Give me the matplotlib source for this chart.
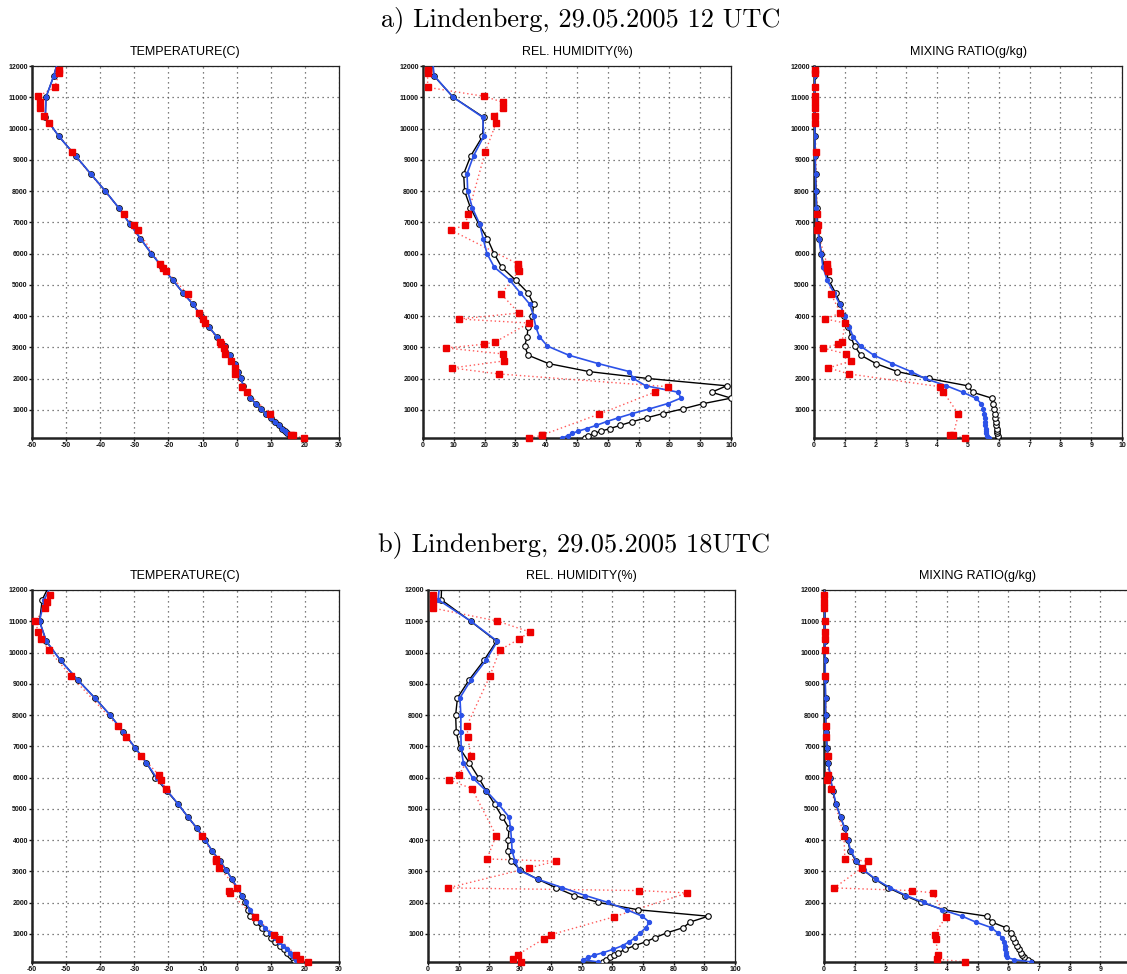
import matplotlib
matplotlib.use("Agg")
import matplotlib.pyplot as plt

plt.rcParams['axes.unicode_minus'] = False

# ---------------- data ----------------
# model levels (m)
levels = [100, 175, 250, 320, 400, 505, 625, 745, 880, 1030, 1200, 1375, 1565, 1770,
          2005, 2225, 2480, 2750, 3040, 3340, 3660, 3995, 4375, 4740, 5145, 5570, 5995,
          6480, 6945, 7465, 8000, 8550, 9125, 9745, 10360, 11000, 11690, 12400]

# ---- a) 12 UTC ----
t_a_blue = [16.3, 15.6, 14.8, 14.2, 13.3, 12.3, 11.1, 10.0, 8.6, 7.1, 5.6, 4.0, 3.0, 2.0,
            1.2, 0.5, -0.5, -2.0, -3.3, -5.8, -8.2, -10.4, -12.8, -15.7, -18.7, -21.8, -25.0,
            -28.2, -31.3, -34.6, -38.5, -42.8, -47.2, -52.1, -56.1, -55.9, -53.6, -51.8]
t_a_black = [16.3, 15.6, 14.8, 14.2, 13.3, 12.3, 11.1, 10.0, 8.6, 7.1, 5.6, 4.0, 3.0, 2.0,
             1.2, 0.5, -0.5, -2.0, -3.3, -5.8, -8.2, -10.4, -12.8, -15.7, -18.7, -21.8, -25.0,
             -28.2, -31.3, -34.6, -38.5, -42.8, -47.2, -52.1, -56.1, -55.9, -53.6, -51.8]
rh_a_blue = [45.2, 47.0, 48.5, 50.4, 53.1, 56.3, 59.6, 63.4, 67.9, 73.5, 79.4, 83.7, 82.9, 72.3,
             68.3, 67.0, 56.9, 47.3, 40.4, 37.8, 36.6, 35.9, 34.7, 31.6, 28.2, 23.1, 20.8,
             19.5, 18.4, 16.0, 14.5, 14.3, 16.4, 19.7, 19.4, 9.8, 3.6, 2.9]
rh_a_black = [52.5, 53.7, 55.6, 57.8, 60.7, 64.0, 68.0, 72.6, 77.8, 84.3, 91.0, 100.0, 93.7, 98.6,
              72.9, 53.9, 40.8, 34.1, 33.0, 33.8, 34.1, 35.5, 35.9, 34.1, 30.1, 25.5, 23.1,
              20.9, 18.1, 15.4, 13.5, 13.2, 15.5, 19.3, 19.7, 9.8, 3.5, 2.8]
mr_a_blue = [5.69, 5.63, 5.60, 5.58, 5.57, 5.56, 5.55, 5.54, 5.52, 5.50, 5.43, 5.25, 4.83, 4.30,
             3.60, 3.15, 2.54, 1.94, 1.51, 1.27, 1.14, 1.00, 0.84, 0.65, 0.43, 0.29, 0.23,
             0.16, 0.10, 0.08, 0.06, 0.05, 0.04, 0.03, 0.02, 0.01, 0.01, 0.01]
mr_a_black = [5.97, 5.96, 5.95, 5.94, 5.93, 5.92, 5.91, 5.89, 5.88, 5.85, 5.81, 5.77, 5.15, 4.99,
              3.72, 2.71, 2.01, 1.52, 1.32, 1.19, 1.12, 0.98, 0.86, 0.70, 0.48, 0.33, 0.24,
              0.17, 0.12, 0.09, 0.07, 0.05, 0.04, 0.03, 0.02, 0.01, 0.01, 0.01]

obs_h_a = [100, 185, 195, 865, 1574, 1740, 2149, 2340, 2565, 2790, 2980, 3100, 3171, 3778,
           3906, 4098, 4705, 5450, 5535, 5663, 6750, 6915, 7260, 9250, 10168, 10413, 10647,
           10839, 11031, 11318, 11787, 11860]
obs_t_a = [19.8, 15.9, 16.4, 9.8, 3.0, 1.6, -0.5, -0.5, -1.6, -3.4, -3.8, -4.6, -4.8, -9.3,
           -9.9, -11.0, -14.4, -20.7, -21.6, -22.5, -29.0, -30.2, -33.0, -48.3, -55.0, -56.5,
           -57.7, -57.7, -58.2, -53.3, -52.1, -52.1]
obs_rh_a = [34.5, 38.7, 38.7, 57.2, 75.4, 79.6, 24.7, 9.4, 26.3, 26.0, 7.5, 19.8, 23.4, 34.5,
            11.7, 31.1, 25.4, 31.1, 30.9, 30.9, 9.1, 13.7, 14.6, 20.2, 23.7, 23.1, 26.0,
            26.0, 19.8, 1.5, 1.5, 1.5]
obs_mr_a = [4.90, 4.40, 4.52, 4.69, 4.20, 4.10, 1.14, 0.47, 1.20, 1.03, 0.29, 0.78, 0.91, 1.01,
            0.37, 0.86, 0.55, 0.46, 0.42, 0.42, 0.10, 0.14, 0.10, 0.06, 0.03, 0.03, 0.03,
            0.03, 0.03, 0.02, 0.02, 0.02]

# ---- b) 18 UTC ----
t_b_blue = [17.8, 17.4, 16.9, 16.3, 15.6, 14.7, 13.6, 12.4, 11.1, 9.7, 8.3, 6.7, 5.2, 3.9,
            2.7, 1.5, 0.2, -1.4, -3.0, -5.0, -7.2, -9.2, -11.6, -14.3, -17.1, -20.3, -23.5,
            -26.5, -29.7, -33.3, -37.1, -41.6, -46.6, -51.6, -55.8, -57.8, -56.4, -53.3]
t_b_black = [17.3, 16.8, 16.2, 15.5, 14.7, 13.8, 12.6, 11.3, 10.1, 8.7, 7.3, 5.6, 3.8, 3.3,
             2.5, 1.6, 0.1, -1.4, -3.0, -5.0, -7.2, -9.2, -11.6, -14.3, -17.1, -20.5, -23.8,
             -26.5, -29.7, -33.3, -37.1, -41.6, -46.6, -51.6, -55.8, -57.8, -57.0, -53.8]
rh_b_blue = [55.4, 50.6, 52.2, 54.2, 57.1, 60.3, 63.4, 65.5, 67.5, 69.1, 71.0, 72.1, 69.8, 64.8,
             58.6, 51.3, 43.7, 35.7, 29.6, 28.3, 27.4, 27.2, 26.9, 26.4, 23.0, 19.0, 14.5,
             11.5, 10.8, 10.7, 10.7, 10.4, 14.0, 18.8, 22.6, 14.0, 3.3, 4.0]
rh_b_black = [57.0, 58.0, 59.3, 60.6, 62.0, 64.3, 67.4, 70.9, 74.0, 77.7, 83.2, 85.3, 91.3, 68.5,
              55.5, 47.7, 41.6, 35.7, 30.1, 27.0, 25.9, 26.1, 26.4, 24.2, 21.7, 19.0, 16.5,
              13.4, 10.3, 9.2, 9.0, 9.6, 13.4, 18.2, 22.3, 13.9, 4.3, 4.5]
mr_b_blue = [6.75, 6.20, 5.95, 5.94, 5.93, 5.91, 5.90, 5.87, 5.80, 5.66, 5.45, 4.95, 4.50, 3.85,
             3.25, 2.68, 2.14, 1.68, 1.30, 1.05, 0.87, 0.78, 0.68, 0.54, 0.40, 0.29, 0.21,
             0.14, 0.10, 0.07, 0.05, 0.05, 0.04, 0.04, 0.03, 0.02, 0.01, 0.01]
mr_b_black = [6.75, 6.63, 6.53, 6.46, 6.41, 6.34, 6.28, 6.22, 6.16, 6.08, 5.92, 5.47, 5.31, 3.91,
              3.17, 2.63, 2.08, 1.66, 1.28, 1.03, 0.85, 0.77, 0.67, 0.54, 0.39, 0.28, 0.21,
              0.14, 0.10, 0.07, 0.05, 0.05, 0.04, 0.04, 0.03, 0.02, 0.01, 0.01]

obs_h_b = [100, 200, 338, 839, 978, 1542, 2310, 2385, 2470, 3110, 3323, 3397, 4143, 5647,
           5924, 6094, 6702, 7299, 7661, 9239, 10081, 10433, 10657, 11009, 11424, 11616, 11840]
obs_t_b = [21.0, 18.5, 17.3, 12.4, 10.9, 5.4, -2.0, -2.2, 0.1, -5.1, -6.2, -6.2, -10.2, -20.7,
           -22.3, -22.9, -28.1, -32.4, -34.9, -48.5, -55.1, -57.3, -58.2, -59.0, -56.1, -55.6, -54.8]
obs_rh_b = [30.2, 27.7, 29.3, 37.7, 40.2, 60.5, 84.5, 68.8, 6.5, 32.9, 41.6, 19.2, 22.2, 14.3,
            6.8, 10.1, 13.9, 13.0, 12.7, 20.1, 23.4, 29.7, 33.2, 22.5, 1.5, 1.5, 1.5]
obs_mr_b = [4.59, 3.67, 3.71, 3.64, 3.60, 3.97, 3.55, 2.87, 0.33, 1.24, 1.43, 0.68, 0.65, 0.23,
            0.10, 0.13, 0.13, 0.08, 0.08, 0.03, 0.02, 0.02, 0.02, 0.02, 0.01, 0.01, 0.01]

titles = ["TEMPERATURE(C)", "REL. HUMIDITY(%)", "MIXING RATIO(g/kg)"]
main_titles = ["a) Lindenberg, 29.05.2005 12 UTC", "b) Lindenberg, 29.05.2005 18UTC"]
y_ticks = list(range(1000, 12001, 1000))
x_ticks_t = list(range(-60, 31, 10))
x_ticks_rh = list(range(0, 101, 10))
x_ticks_mr = list(range(0, 11, 1))
x_ticks_mr_b = list(range(0, 10, 1))

# ---------------- figure ----------------
W, H = 1127, 974
fig = plt.figure(figsize=(W / 100, H / 100), dpi=100)


def rect(x0, x1, y0, y1):
    return [x0 / W, 1 - y1 / H, (x1 - x0) / W, (y1 - y0) / H]


BLUE = '#2c52e8'
RED = '#ee0000'


def panel(r, blk, blu, obs, obs_h, xlim, xticks, title):
    ax = fig.add_axes(r)
    ax.plot(obs, obs_h, ls=(0, (1, 2)), color='#ff5a5a', lw=1.0, zorder=2)
    ax.plot(blk, levels, color='black', lw=1.0, marker='o', ms=4.0, mfc='white',
            mec='black', mew=0.8, zorder=3)
    ax.plot(blu, levels, color=BLUE, lw=1.2, marker='o', ms=2.8, mfc=BLUE, mec=BLUE, zorder=4)
    ax.plot(obs, obs_h, ls='none', marker='s', ms=4.6, color=RED, mec=RED, zorder=5, clip_on=False)
    ax.set_xlim(*xlim)
    ax.set_ylim(100, 12000)
    ax.set_xticks(xticks)
    ax.set_yticks(y_ticks)
    ax.grid(True, color='#555555', ls=(0, (1, 3)), lw=0.9)
    ax.set_axisbelow(True)
    for s in ('left', 'bottom'):
        ax.spines[s].set_linewidth(1.8)
        ax.spines[s].set_color('#222222')
    for s in ('top', 'right'):
        ax.spines[s].set_linewidth(0.9)
        ax.spines[s].set_linestyle((0, (3, 1)))
        ax.spines[s].set_color('#222222')
    ax.tick_params(direction='out', length=2, width=1, pad=1, colors='#111111')
    for lab in ax.get_xticklabels() + ax.get_yticklabels():
        lab.set_fontfamily('Liberation Sans')
        lab.set_fontweight('bold')
        lab.set_fontsize(5)
    ax.set_title(title, fontfamily='Liberation Sans', fontsize=9, pad=8)
    return ax


rows = [(66, 438), (590, 962)]
cols_a = [(32, 339), (423, 731), (814, 1122)]
cols_b = [(32, 339), (428, 735), (824, 1131)]

data_a = [(t_a_black, t_a_blue, obs_t_a), (rh_a_black, rh_a_blue, obs_rh_a),
          (mr_a_black, mr_a_blue, obs_mr_a)]
data_b = [(t_b_black, t_b_blue, obs_t_b), (rh_b_black, rh_b_blue, obs_rh_b),
          (mr_b_black, mr_b_blue, obs_mr_b)]
xlims = [(-60, 30), (0, 100), (0, 10)]
xticks_a = [x_ticks_t, x_ticks_rh, x_ticks_mr]
xticks_b = [x_ticks_t, x_ticks_rh, x_ticks_mr_b]

for (y0, y1), cols, data, obs_h, xt in [(rows[0], cols_a, data_a, obs_h_a, xticks_a),
                                        (rows[1], cols_b, data_b, obs_h_b, xticks_b)]:
    for i in range(3):
        blk, blu, obs = data[i]
        panel(rect(cols[i][0], cols[i][1], y0, y1), blk, blu, obs, obs_h,
              xlims[i], xt[i], titles[i])

fig.text(581 / W, 1 - 20 / H, main_titles[0], fontfamily='cmr10', fontsize=19,
         ha='center', va='center')
fig.text(574 / W, 1 - 545 / H, main_titles[1], fontfamily='cmr10', fontsize=19,
         ha='center', va='center')

fig.savefig('out.png', dpi=100)
